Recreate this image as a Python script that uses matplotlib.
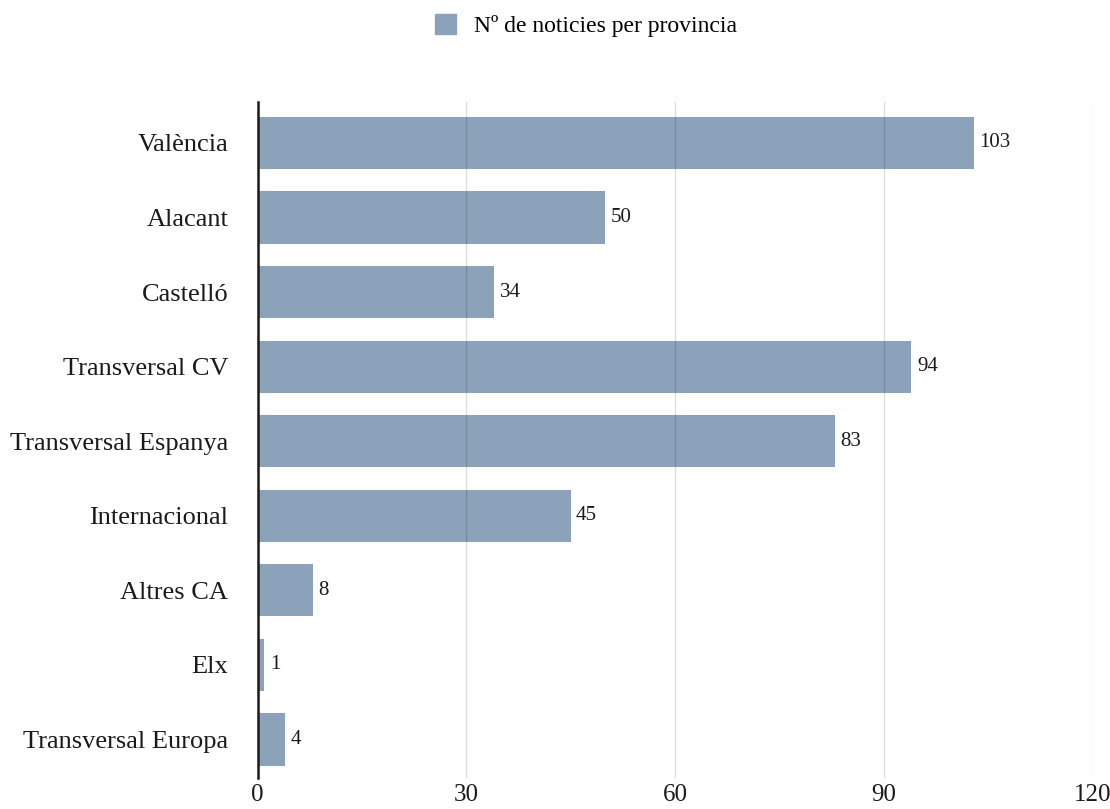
import matplotlib
matplotlib.use('Agg')
import matplotlib.pyplot as plt
from matplotlib.patches import Patch

categories = ['València', 'Alacant', 'Castelló', 'Transversal CV', 'Transversal Espanya',
              'Internacional', 'Altres CA', 'Elx', 'Transversal Europa']
counts = [103, 50, 34, 94, 83, 45, 8, 1, 4]
x_ticks = [0, 30, 60, 90, 120]
series_name = 'Nº de noticies per provincia'

bar_color = '#8ba2ba'
plt.rcParams['font.family'] = ['Liberation Serif', 'DejaVu Serif']

fig = plt.figure(figsize=(11.1, 8.09), dpi=100)
ax = fig.add_axes([0.232, 0.038, 0.752, 0.836])

ypos = list(range(len(categories)))
ax.barh(ypos, counts, height=0.7, color=bar_color, zorder=1)
for y, v in zip(ypos, counts):
    ax.text(v + 0.8, y, str(v), va='center', ha='left', fontsize=15,
            color='#1a1a1a', zorder=4)

ax.set_xlim(0, 120)
ax.set_ylim(len(categories) - 0.48, -0.55)
ax.set_xticks(x_ticks)
ax.set_xticklabels([str(t) for t in x_ticks])
ax.set_yticks(ypos)
ax.set_yticklabels(categories)
ax.tick_params(axis='both', length=0, colors='#1a1a1a')
ax.tick_params(axis='y', pad=21, labelsize=19)
ax.tick_params(axis='x', pad=4, labelsize=18)

ax.set_axisbelow(False)
ax.grid(axis='x', color='#000000', alpha=0.13, linewidth=1, zorder=2)
ax.grid(axis='y', visible=False)
for side in ['top', 'right', 'bottom']:
    ax.spines[side].set_visible(False)
ax.spines['left'].set_color('#1a1a1a')
ax.spines['left'].set_linewidth(1.8)
ax.spines['left'].set_zorder(3)

fig.legend(handles=[Patch(color=bar_color, label=series_name)],
           loc='center', bbox_to_anchor=(0.528, 0.968), frameon=False,
           fontsize=17, handlelength=0.9, handleheight=0.9, handletextpad=0.75)

fig.savefig('out.png', dpi=100)
